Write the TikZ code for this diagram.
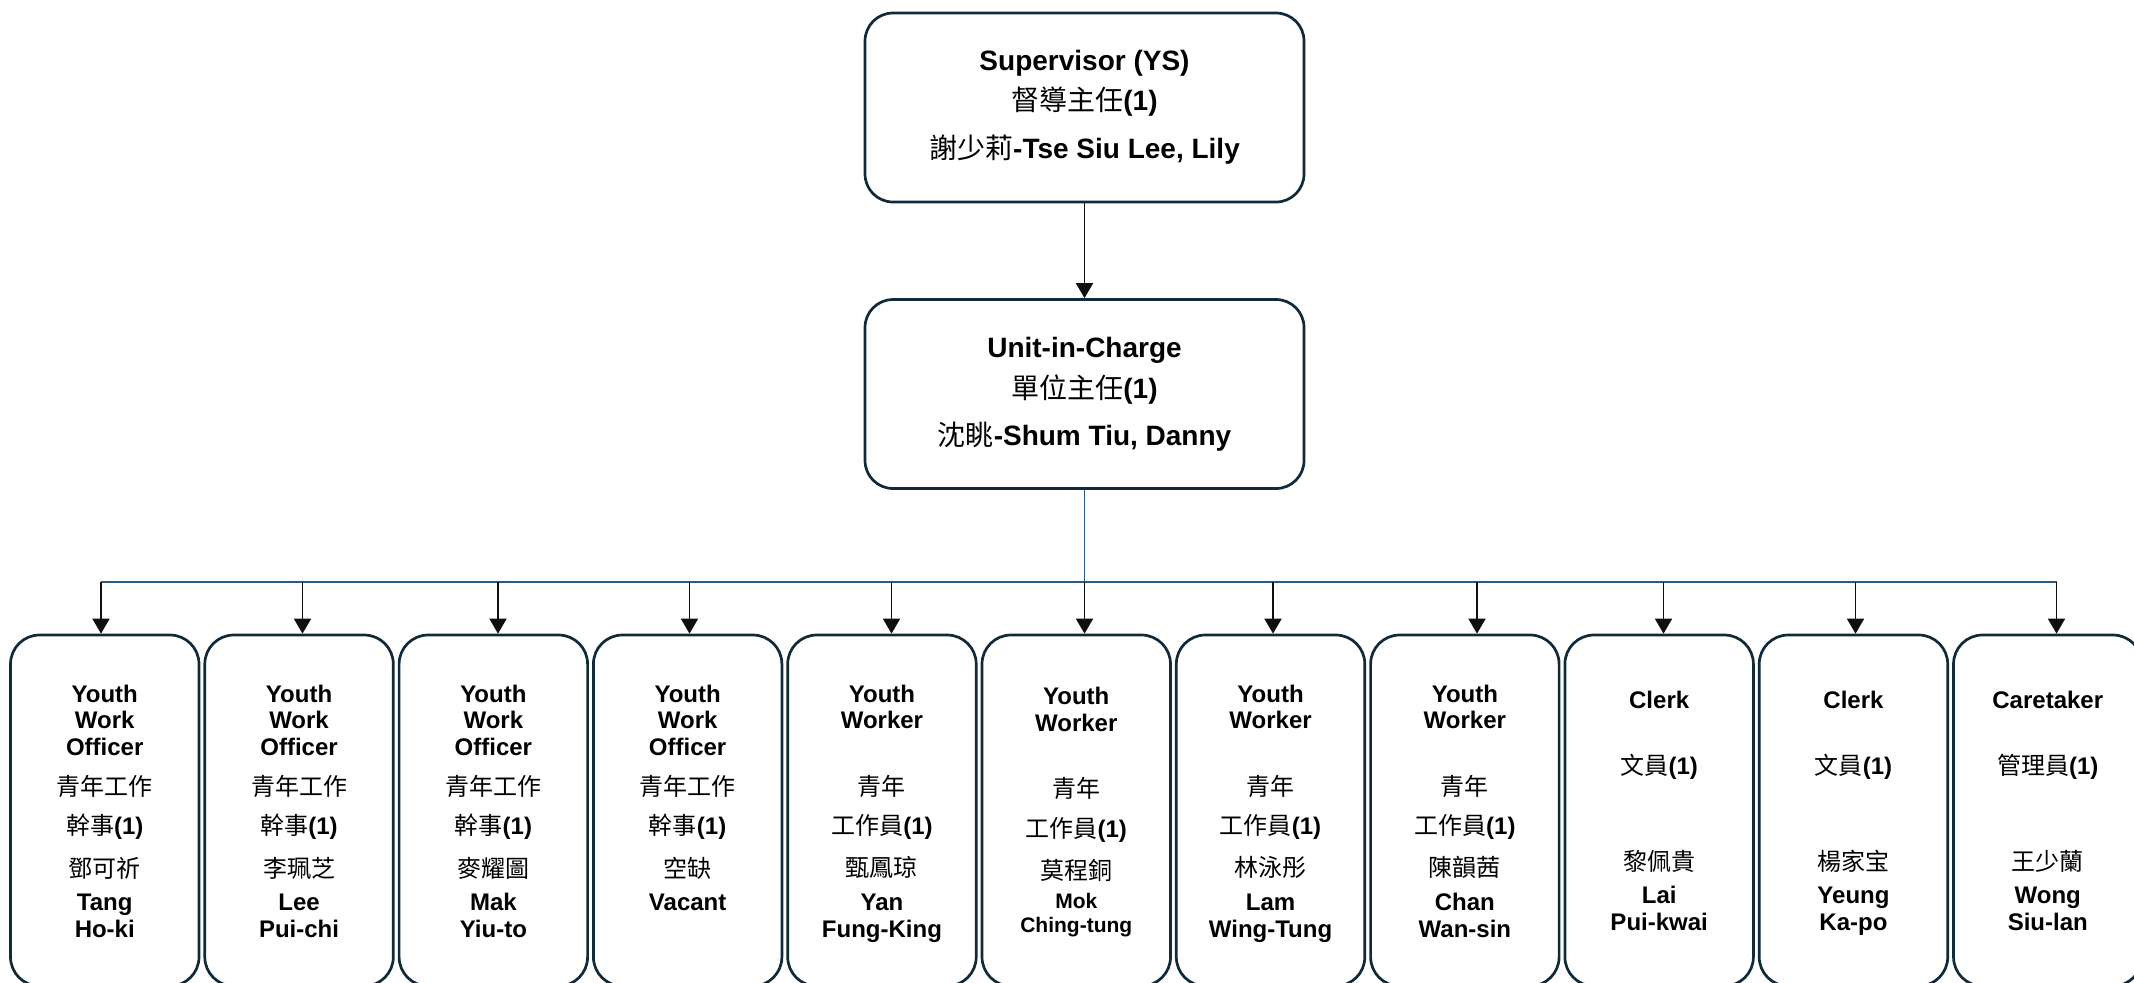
\documentclass[tikz,border=0pt]{standalone}
\usepackage{fontspec}
\setmainfont{Liberation Sans}
\newfontfamily\cjk{Noto Sans CJK TC}
\usetikzlibrary{arrows.meta}
\definecolor{boxc}{RGB}{16,42,58}
\definecolor{busc}{RGB}{40,92,132}
\definecolor{arrc}{RGB}{15,15,15}
\newcommand\zh[1]{{\cjk\mdseries #1}}
\newcommand\putline[4]{\node[txt] (#1) at (#2,#3) {#4};}
\newcommand\putbig[4]{\node[ttxt] (#1) at (#2,#3) {#4};}
\tikzset{
  headbox/.style={draw=boxc, line width=1.35pt, rounded corners=14pt, minimum width=219.5pt, minimum height=94.5pt, inner sep=0pt, fill=white},
  staffbox/.style={draw=boxc, line width=1.35pt, rounded corners=14.5pt, minimum width=94.25pt, minimum height=175.5pt, inner sep=0pt, fill=white},
  arr/.style={draw=arrc, line width=0.85pt, -{Triangle[length=7.5pt,width=8.5pt]}},
  bus/.style={draw=busc, line width=0.7pt},
  txt/.style={inner sep=0pt, anchor=base, font=\fontsize{12}{14}\selectfont\bfseries},
  ttxt/.style={inner sep=0pt, anchor=base, font=\fontsize{14}{16}\selectfont\bfseries},
  stxt/.style={inner sep=0pt, anchor=base, font=\fontsize{10.5}{12}\selectfont\bfseries}
}
\begin{document}
\begin{tikzpicture}[x=0.5pt,y=-0.5pt]
\useasboundingbox (0,0) rectangle (2134,982);
% head boxes
\node[headbox] (sup) at (1084.5,107.5) {};
\node[headbox] (uic) at (1084.5,394) {};
\putbig{sup1}{1084.5}{70}{Supervisor (YS)}
\putbig{sup2}{1084.5}{110}{\zh{督導主任}(1)}
\putbig{sup3}{1084.5}{158}{\zh{謝少莉}-Tse Siu Lee, Lily}
\putbig{uic1}{1084.5}{357}{Unit-in-Charge}
\putbig{uic2}{1084.5}{398}{\zh{單位主任}(1)}
\putbig{uic3}{1084.5}{445}{\zh{沈眺}-Shum Tiu, Danny}
\draw[arr] (sup.south) -- (uic.north);
% staff boxes
\node[staffbox] (b1) at (104.75,810.5) {};
\node[staffbox] (b2) at (299.05,810.5) {};
\node[staffbox] (b3) at (493.35,810.5) {};
\node[staffbox] (b4) at (687.65,810.5) {};
\node[staffbox] (b5) at (881.95,810.5) {};
\node[staffbox] (b6) at (1076.25,810.5) {};
\node[staffbox] (b7) at (1270.55,810.5) {};
\node[staffbox] (b8) at (1464.85,810.5) {};
\node[staffbox] (b9) at (1659.15,810.5) {};
\node[staffbox] (b10) at (1853.45,810.5) {};
\node[staffbox] (b11) at (2047.75,810.5) {};
% bus taps
\coordinate (t1) at (101,582);
\coordinate (t2) at (302.5,582);
\coordinate (t3) at (498,582);
\coordinate (t4) at (689.5,582);
\coordinate (t5) at (891.5,582);
\coordinate (t6) at (1084.5,582);
\coordinate (t7) at (1273,582);
\coordinate (t8) at (1477,582);
\coordinate (t9) at (1663.5,582);
\coordinate (t10) at (1855.5,582);
\coordinate (t11) at (2056.5,582);
\draw[bus] (t1) -- (t11);
\draw[bus] (uic.south) -- (t6);
\foreach \i in {1,...,11}{
  \draw[arr] (t\i) -- (t\i |- b\i.north);
}
% box 1
\putline{a1}{104.75}{702}{Youth}
\putline{a2}{104.75}{728}{Work}
\putline{a3}{104.75}{755}{Officer}
\putline{a4}{104.75}{795}{\zh{青年工作}}
\putline{a5}{104.75}{834}{\zh{幹事}(1)}
\putline{a6}{104.75}{877}{\zh{鄧可祈}}
\putline{a7}{104.75}{910}{Tang}
\putline{a8}{104.75}{937}{Ho-ki}
% box 2
\putline{c1}{299.05}{702}{Youth}
\putline{c2}{299.05}{728}{Work}
\putline{c3}{299.05}{755}{Officer}
\putline{c4}{299.05}{795}{\zh{青年工作}}
\putline{c5}{299.05}{834}{\zh{幹事}(1)}
\putline{c6}{299.05}{877}{\zh{李珮芝}}
\putline{c7}{299.05}{910}{Lee}
\putline{c8}{299.05}{937}{Pui-chi}
% box 3
\putline{d1}{493.35}{702}{Youth}
\putline{d2}{493.35}{728}{Work}
\putline{d3}{493.35}{755}{Officer}
\putline{d4}{493.35}{795}{\zh{青年工作}}
\putline{d5}{493.35}{834}{\zh{幹事}(1)}
\putline{d6}{493.35}{877}{\zh{麥耀圖}}
\putline{d7}{493.35}{910}{Mak}
\putline{d8}{493.35}{937}{Yiu-to}
% box 4
\putline{e1}{687.65}{702}{Youth}
\putline{e2}{687.65}{728}{Work}
\putline{e3}{687.65}{755}{Officer}
\putline{e4}{687.65}{795}{\zh{青年工作}}
\putline{e5}{687.65}{834}{\zh{幹事}(1)}
\putline{e6}{687.65}{877}{\zh{空缺}}
\putline{e7}{687.65}{910}{Vacant}
% box 5
\putline{f1}{881.95}{702}{Youth}
\putline{f2}{881.95}{728}{Worker}
\putline{f4}{881.95}{795}{\zh{青年}}
\putline{f5}{881.95}{834}{\zh{工作員}(1)}
\putline{f6}{881.95}{876}{\zh{甄鳳琼}}
\putline{f7}{881.95}{910}{Yan}
\putline{f8}{881.95}{937}{Fung-King}
% box 6
\putline{g1}{1076.25}{704}{Youth}
\putline{g2}{1076.25}{731}{Worker}
\putline{g4}{1076.25}{797}{\zh{青年}}
\putline{g5}{1076.25}{837}{\zh{工作員}(1)}
\putline{g6}{1076.25}{879}{\zh{莫程銅}}
\node[stxt] (g7) at (1076.25,908) {Mok};
\node[stxt] (g8) at (1076.25,932) {Ching-tung};
% box 7
\putline{h1}{1270.55}{702}{Youth}
\putline{h2}{1270.55}{728}{Worker}
\putline{h4}{1270.55}{795}{\zh{青年}}
\putline{h5}{1270.55}{834}{\zh{工作員}(1)}
\putline{h6}{1270.55}{876}{\zh{林泳彤}}
\putline{h7}{1270.55}{910}{Lam}
\putline{h8}{1270.55}{937}{Wing-Tung}
% box 8
\putline{k1}{1464.85}{702}{Youth}
\putline{k2}{1464.85}{728}{Worker}
\putline{k4}{1464.85}{795}{\zh{青年}}
\putline{k5}{1464.85}{834}{\zh{工作員}(1)}
\putline{k6}{1464.85}{876}{\zh{陳韻茜}}
\putline{k7}{1464.85}{910}{Chan}
\putline{k8}{1464.85}{937}{Wan-sin}
% box 9
\putline{m1}{1659.15}{708}{Clerk}
\putline{m2}{1659.15}{774}{\zh{文員}(1)}
\putline{m3}{1659.15}{870}{\zh{黎佩貴}}
\putline{m4}{1659.15}{903}{Lai}
\putline{m5}{1659.15}{930}{Pui-kwai}
% box 10
\putline{n1}{1853.45}{708}{Clerk}
\putline{n2}{1853.45}{774}{\zh{文員}(1)}
\putline{n3}{1853.45}{870}{\zh{楊家宝}}
\putline{n4}{1853.45}{903}{Yeung}
\putline{n5}{1853.45}{930}{Ka-po}
% box 11
\putline{p1}{2047.75}{708}{Caretaker}
\putline{p2}{2047.75}{774}{\zh{管理員}(1)}
\putline{p3}{2047.75}{870}{\zh{王少蘭}}
\putline{p4}{2047.75}{903}{Wong}
\putline{p5}{2047.75}{930}{Siu-lan}
\end{tikzpicture}
\end{document}
